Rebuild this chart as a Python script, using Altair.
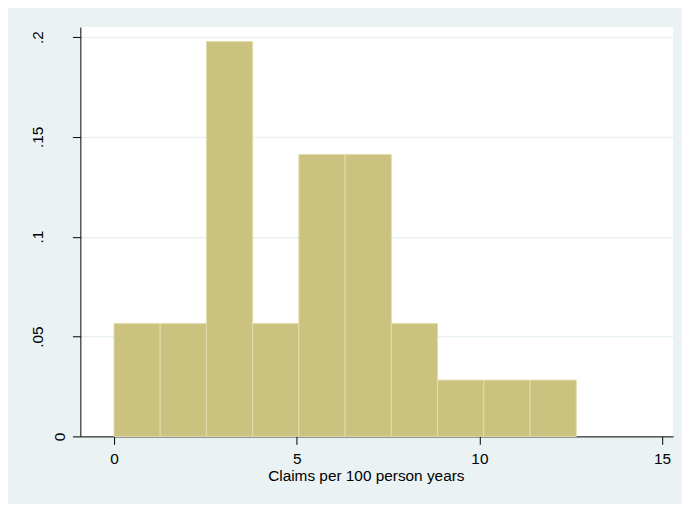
import altair as alt
import pandas as pd

# Histogram of claims per 100 person years (density scale)
bin_start = [0.0, 1.265, 2.53, 3.795, 5.06, 6.325, 7.59, 8.855, 10.12, 11.385]
bin_end = [1.265, 2.53, 3.795, 5.06, 6.325, 7.59, 8.855, 10.12, 11.385, 12.65]
density = [0.0565, 0.0565, 0.1977, 0.0565, 0.1412, 0.1412, 0.0565, 0.0282, 0.0282, 0.0282]

x_ticks = [0, 5, 10, 15]
y_ticks = [0, 0.05, 0.1, 0.15, 0.2]

df = pd.DataFrame({"start": bin_start, "end": bin_end, "density": density})

FONT = "Liberation Sans"

chart = (
    alt.Chart(df)
    .mark_rect(color="#CAC27E", stroke="#E2DDAA", strokeWidth=1)
    .encode(
        x=alt.X(
            "start:Q",
            scale=alt.Scale(domain=[-0.92, 15.3], nice=False, zero=False),
            axis=alt.Axis(
                values=x_ticks,
                format="d",
                title="Claims per 100 person years",
                titleFont=FONT,
                titleFontSize=15.5,
                titleFontWeight="normal",
                titleColor="black",
                titleX=288,
                titleY=44,
                titleAlign="center",
                titleBaseline="alphabetic",
                labelFont=FONT,
                labelFontSize=15.5,
                labelColor="black",
                labelBaseline="top",
                labelPadding=7,
                tickSize=8,
                tickColor="black",
                domainColor="black",
                grid=False,
                labelFlush=False,
            ),
        ),
        x2="end:Q",
        y=alt.Y(
            "density:Q",
            scale=alt.Scale(domain=[0, 0.205], nice=False),
            axis=alt.Axis(
                values=y_ticks,
                labelExpr="datum.value == 0 ? '0' : replace(format(datum.value, '.2~f'), '0.', '.')",
                title=None,
                labelFont=FONT,
                labelFontSize=15.5,
                labelColor="black",
                labelAngle=270,
                labelAlign="center",
                labelBaseline="middle",
                labelPadding={"condition": {"test": "datum.value == 0", "value": 13}, "value": 35},
                labelFlush=False,
                tickSize=8,
                tickColor="black",
                domainColor="black",
                grid=True,
                gridColor="#E8F0F2",
                gridWidth=1.5,
            ),
        ),
    )
    .properties(
        width=598,
        height=413,
        autosize=alt.AutoSizeParams(type="none"),
        padding={"left": 73, "top": 17, "right": 9, "bottom": 66},
        background="#EAF2F3",
    )
    .configure_view(fill="white", stroke=None)
)

chart.save("out.html", embed_options={"renderer": "svg", "actions": False})
